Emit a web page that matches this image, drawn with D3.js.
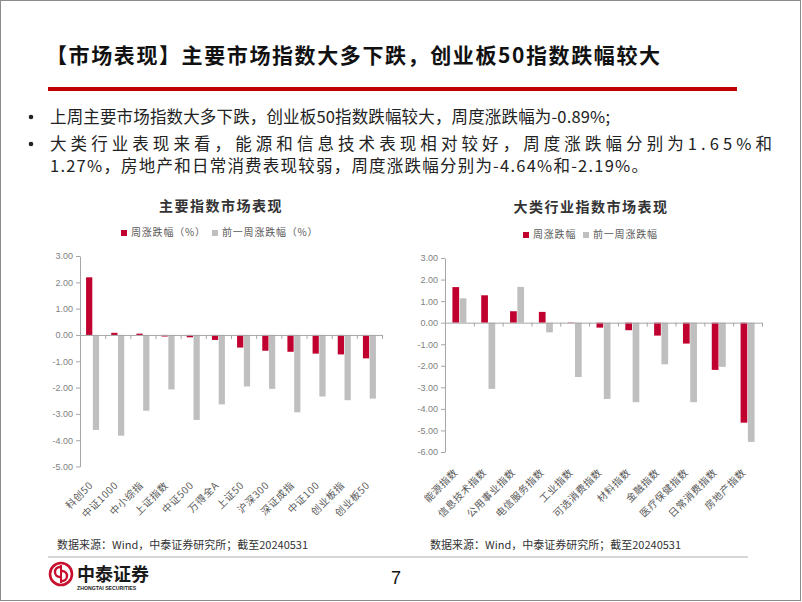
<!DOCTYPE html>
<html><head><meta charset="utf-8">
<script src="https://cdn.jsdelivr.net/npm/d3@7/dist/d3.min.js"></script>
<style>
body{margin:0;background:#fff;}
svg{display:block;font-family:"Noto Sans CJK SC","Noto Sans",sans-serif;}
</style></head>
<body>
<svg id="slide" width="802" height="602"></svg>
<script>
// ---------- data ----------
const idxCats = ["科创50","中证1000","中小综指","上证指数","中证500","万得全A","上证50","沪深300","深证成指","中证100","创业板指","创业板50"];
const idxWeek = [2.19, 0.08, 0.05, -0.06, -0.09, -0.19, -0.48, -0.60, -0.64, -0.71, -0.74, -0.89];
const idxPrev = [-3.61, -3.83, -2.88, -2.07, -3.23, -2.64, -1.96, -2.05, -2.94, -2.34, -2.48, -2.42];
const idxTicks = [3, 2, 1, 0, -1, -2, -3, -4, -5];

const indCats = ["能源指数","信息技术指数","公用事业指数","电信服务指数","工业指数","可选消费指数","材料指数","金融指数","医疗保健指数","日常消费指数","房地产指数"];
const indWeek = [1.65, 1.27, 0.53, 0.50, -0.02, -0.23, -0.35, -0.60, -0.97, -2.19, -4.64];
const indPrev = [1.13, -3.07, 1.66, -0.45, -2.52, -3.54, -3.69, -1.93, -3.69, -2.05, -5.53];
const indTicks = [3, 2, 1, 0, -1, -2, -3, -4, -5, -6];

const seriesKeys = ["week", "prev"];
const leftLegend = ["周涨跌幅（%）", "前一周涨跌幅（%）"];
const rightLegend = ["周涨跌幅", "前一周涨跌幅"];

const RED = "#C0002E", GRAY = "#BFBFBF", AXIS = "#A6A6A6", LABEL = "#595959";

const svg = d3.select("#slide");
svg.append("rect").attr("x",0.5).attr("y",0.5).attr("width",800).attr("height",600)
  .attr("fill","#fff").attr("stroke","#8c8c8c").attr("stroke-width",1);

// ---------- header ----------
svg.append("text").attr("x",46).attr("y",63)
  .attr("font-size",21).attr("font-weight",700).attr("fill","#111")
  .attr("textLength",614).attr("lengthAdjust","spacing")
  .text("【市场表现】主要市场指数大多下跌，创业板50指数跌幅较大");
svg.append("rect").attr("x",48).attr("y",87).attr("width",689).attr("height",4).attr("fill","#C00000");

const bullets = [
  {t:"上周主要市场指数大多下跌，创业板50指数跌幅较大，周度涨跌幅为-0.89%;", y:123, dot:true, len:560},
  {t:"大类行业表现来看，能源和信息技术表现相对较好，周度涨跌幅分别为1.65%和", y:150, dot:true, len:722},
  {t:"1.27%，房地产和日常消费表现较弱，周度涨跌幅分别为-4.64%和-2.19%。", y:172, dot:false, len:598}
];
bullets.forEach(b=>{
  if(b.dot) svg.append("circle").attr("cx",31).attr("cy",b.y-6).attr("r",2.3).attr("fill","#222");
  svg.append("text").attr("x",50).attr("y",b.y).attr("font-size",16.5)
    .attr("fill","#222").attr("textLength",b.len).attr("lengthAdjust","spacing").text(b.t);
});

// ---------- chart builder ----------
function barChart(o){
  const g = svg.append("g");
  const y = d3.scaleLinear().domain([o.ticks[o.ticks.length-1], o.ticks[0]]).range([o.yBottom, o.yTop]);
  const x0 = d3.scaleBand().domain(o.cats).range([o.xLeft, o.xRight]).paddingInner(0).paddingOuter(0);
  const bw = x0.bandwidth();
  const x1 = d3.scaleBand().domain(seriesKeys).range([bw/2 - o.pair/2, bw/2 + o.pair/2]).paddingInner(0.08);

  // title
  g.append("text").attr("x",o.titleX).attr("y",o.titleY).attr("text-anchor","middle")
    .attr("font-size",14).attr("font-weight",700).attr("letter-spacing",1.5).attr("fill","#333").text(o.title);
  // legend
  o.legend.forEach((lab,i)=>{
    g.append("rect").attr("x",o.legX[i]).attr("y",o.legY-6).attr("width",6).attr("height",6)
      .attr("fill", i===0?RED:GRAY);
    g.append("text").attr("x",o.legX[i]+10).attr("y",o.legY).attr("font-size",10)
      .attr("letter-spacing",0.8).attr("fill",LABEL).text(lab);
  });

  // y axis
  const ya = g.append("g").attr("transform",`translate(${o.xLeft},0)`)
    .call(d3.axisLeft(y).tickValues(o.ticks).tickSize(4).tickSizeOuter(0).tickPadding(3).tickFormat(d=>d.toFixed(2)));
  ya.select(".domain").attr("stroke",AXIS);
  ya.selectAll(".tick line").attr("stroke",AXIS);
  ya.selectAll(".tick text").attr("fill","#7f7f7f").attr("font-size",9)
    .attr("font-family","'Liberation Sans','Noto Sans',sans-serif");

  // bars
  const data = o.cats.map((c,i)=>({c, v:[o.week[i], o.prev[i]]}));
  const grp = g.selectAll("g.cat").data(data).join("g").attr("class","cat")
    .attr("transform",d=>`translate(${x0(d.c)},0)`);
  grp.selectAll("rect").data(d=>seriesKeys.map((k,j)=>({k, v:d.v[j]}))).join("rect")
    .attr("x",d=>x1(d.k)).attr("width",x1.bandwidth())
    .attr("y",d=>y(Math.max(0,d.v))).attr("height",d=>Math.abs(y(d.v)-y(0)))
    .attr("fill",d=>d.k==="week"?RED:GRAY);

  // x axis (zero line with boundary ticks)
  const xb = d3.scaleLinear().domain([0,o.cats.length]).range([o.xLeft,o.xRight]);
  const xa = g.append("g").attr("transform",`translate(0,${y(0)})`)
    .call(d3.axisBottom(xb).tickValues(d3.range(1,o.cats.length+1)).tickSize(4).tickSizeOuter(0).tickFormat(""));
  xa.select(".domain").attr("stroke",AXIS);
  xa.selectAll(".tick line").attr("stroke",AXIS);

  // rotated category labels
  g.selectAll("text.cl").data(o.cats).join("text").attr("class","cl")
    .attr("transform",d=>`translate(${x0(d)+bw/2+o.labDx},${o.labY}) rotate(-45)`)
    .attr("text-anchor","end").attr("font-size",10).attr("letter-spacing",0.6)
    .attr("fill",LABEL).text(d=>d);
}

barChart({cats:idxCats, week:idxWeek, prev:idxPrev, ticks:idxTicks,
  xLeft:80, xRight:382, yTop:256, yBottom:466.5, pair:13,
  title:"主要指数市场表现", titleX:221, titleY:211,
  legend:leftLegend, legX:[121,212], legY:236, labDx:1, labY:486});

barChart({cats:indCats, week:indWeek, prev:indPrev, ticks:indTicks,
  xLeft:445, xRight:762, yTop:258, yBottom:452, pair:14,
  title:"大类行业指数市场表现", titleX:591, titleY:212,
  legend:rightLegend, legX:[523,583], legY:238, labDx:-1, labY:473});

// ---------- footer ----------
const src = "数据来源：Wind，中泰证券研究所；截至20240531";
[57, 430].forEach(x=>{
  svg.append("text").attr("x",x).attr("y",549).attr("font-size",11).attr("fill","#333").text(src);
});
svg.append("line").attr("x1",48).attr("x2",748).attr("y1",557).attr("y2",557)
  .attr("stroke","#c8c8c8").attr("stroke-width",1.5);

// logo
const lg = svg.append("g").attr("transform","translate(61,574)");
lg.append("circle").attr("r",11).attr("fill","none").attr("stroke","#C8102E").attr("stroke-width",2.6);
lg.append("path").attr("d","M-1,-7 A5,5 0 1 0 -1,3").attr("fill","none").attr("stroke","#C8102E").attr("stroke-width",2.4);
lg.append("path").attr("d","M1,-3 A5,5 0 1 1 1,7").attr("fill","none").attr("stroke","#C8102E").attr("stroke-width",2.4);
lg.append("line").attr("x1",0).attr("x2",0).attr("y1",-9).attr("y2",9).attr("stroke","#C8102E").attr("stroke-width",2);
svg.append("text").attr("x",77).attr("y",581).attr("font-size",18).attr("font-weight",700)
  .attr("fill","#1a1a1a").text("中泰证券");
svg.append("text").attr("x",77).attr("y",590).attr("font-size",5.2).attr("font-weight",700)
  .attr("font-family","'Liberation Sans',sans-serif").attr("fill","#1a1a1a").text("ZHONGTAI SECURITIES");
svg.append("text").attr("x",396).attr("y",584).attr("text-anchor","middle").attr("font-size",18)
  .attr("font-family","'Liberation Sans',sans-serif").attr("fill","#111").text("7");
</script>
</body></html>
